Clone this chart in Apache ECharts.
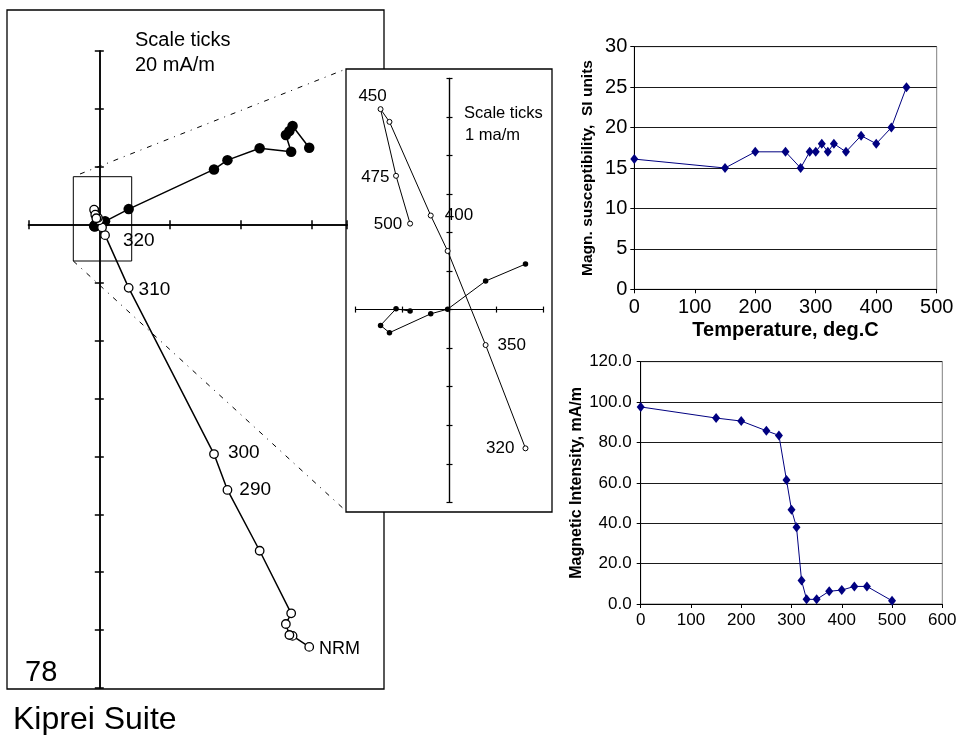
<!DOCTYPE html>
<html><head><meta charset="utf-8">
<script src="https://cdn.jsdelivr.net/npm/echarts@6/dist/echarts.min.js"></script>
<style>html,body{margin:0;padding:0;background:#fff}#c{width:958px;height:735px}</style>
</head><body><div id="c"></div>
<script>
// ---- Zijderveld diagram data (mA/m), shared horizontal component ----
const zLabels = ['NRM','','','','','','290','300','310','320','350','','400','','450','475','500'];
const zX      = [59.3, 54.6, 53.7, 52.7, 54.2, 45.3, 36.2, 32.4, 8.3, 1.62, 0.77, -0.04, -0.40, -1.28, -1.47, -1.14, -0.84];
const zHoriz  = [26.6, 34.1, 32.4, 31.0, 25.2, 26.4, 22.3, 19.1, 5.4, 1.18, 0.74, 0.01, -0.11, -0.60, -0.41, 0.02, -0.04];
const zVert   = [-145.8, -142.0, -141.7, -137.9, -134.2, -112.6, -91.6, -79.2, -21.8, -3.60, -0.92, 1.52, 2.44, 4.87, 5.20, 3.47, 2.23];
const insetFrom = '320';

// ---- Susceptibility vs temperature ----
const tempK   = [0, 150, 200, 250, 275, 290, 300, 310, 320, 330, 350, 375, 400, 425, 450];
const suscept = [16.1, 15, 17, 17, 15, 17, 17, 18, 17, 18, 17, 19, 18, 20, 25];

// ---- Magnetic intensity vs temperature ----
const tempI     = [0, 150, 200, 250, 275, 290, 300, 310, 320, 330, 350, 375, 400, 425, 450, 500];
const intensity = [97.6, 92.1, 90.6, 85.8, 83.5, 61.4, 46.7, 38.0, 11.6, 2.3, 2.3, 6.3, 6.9, 8.7, 8.7, 1.6];

const FONT = 'Liberation Sans';
const chart = echarts.init(document.getElementById('c'), null, {renderer: 'canvas'});

const mainLabelCfg = {
  'NRM': {position: 'right', distance: 5, offset: [0, 2], fontSize: 18},
  '290': {position: 'right', distance: 7, offset: [0, 0]},
  '300': {position: 'right', distance: 9, offset: [0, -1.5]},
  '310': {position: 'right', distance: 5, offset: [0, 2]},
  '320': {position: 'right', distance: 13, offset: [0, 6]}
};
const insetLabelCfg = {
  '450': {position: 'top', distance: 1, offset: [-8, 0]},
  '475': {position: 'left', distance: 3.5, offset: [0, 1]},
  '500': {position: 'left', distance: 5, offset: [0, 1]},
  '400': {position: 'right', distance: 11, offset: [0, 0]},
  '350': {position: 'right', distance: 9, offset: [0, 0]},
  '320': {position: 'left', distance: 8, offset: [0, 0]}
};

function zData(ys, start, cfg, withLabels, fs) {
  const out = [];
  for (let i = start; i < zX.length; i++) {
    const item = {value: [zX[i], ys[i]]};
    const name = zLabels[i];
    if (withLabels && name && cfg[name]) {
      const c = cfg[name];
      item.label = {show: true, formatter: name, position: c.position, distance: c.distance,
        offset: c.offset, fontSize: c.fontSize || fs, fontFamily: FONT, color: '#000'};
    }
    out.push(item);
  }
  return out;
}
const insetStart = zLabels.indexOf(insetFrom);

function crossAxis(grid, pos, min, max, interval, tickLen, lw, zeroIdx) {
  return {
    type: 'value', gridIndex: grid, position: pos, min: min, max: max, interval: interval,
    axisLine: {show: true, onZero: true, onZeroAxisIndex: zeroIdx, lineStyle: {color: '#000', width: lw}},
    axisTick: {show: true, inside: false, length: tickLen, lineStyle: {color: '#000', width: lw}},
    axisLabel: {show: false}, splitLine: {show: false}
  };
}

const option = {
  animation: false,
  backgroundColor: '#fff',
  textStyle: {fontFamily: FONT},
  grid: [
    {left: 28.5, top: 51, width: 318.6, height: 637, outerBoundsMode: 'none'},
    {left: 355.7, top: 78.3, width: 187.6, height: 424, outerBoundsMode: 'none'},
    {left: 634.3, top: 46.7, width: 302.4, height: 242.6, show: true, borderColor: '#808080', borderWidth: 1, outerBoundsMode: 'none'},
    {left: 640.7, top: 361.7, width: 301.6, height: 242.3, show: true, borderColor: '#808080', borderWidth: 1, outerBoundsMode: 'none'}
  ],
  xAxis: [
    crossAxis(0, 'bottom', -20, 70, 20, 4.5, 1.5, 0),
    crossAxis(0, 'top', -20, 70, 20, 4.5, 1.5, 0),
    crossAxis(1, 'bottom', -2, 2, 1, 3, 1.2, 2),
    crossAxis(1, 'top', -2, 2, 1, 3, 1.2, 2),
    {type: 'value', gridIndex: 2, min: 0, max: 500, interval: 100,
      axisLine: {show: true, onZero: false, lineStyle: {color: '#000', width: 1}},
      axisTick: {show: true, length: 4, lineStyle: {color: '#000'}},
      axisLabel: {color: '#000', fontSize: 20, fontFamily: FONT, margin: 8},
      splitLine: {show: false},
      name: 'Temperature, deg.C', nameLocation: 'middle', nameGap: 31,
      nameTextStyle: {color: '#000', fontSize: 20, fontWeight: 'bold', fontFamily: FONT}},
    {type: 'value', gridIndex: 3, min: 0, max: 600, interval: 100,
      axisLine: {show: true, onZero: false, lineStyle: {color: '#000', width: 1}},
      axisTick: {show: true, length: 4, lineStyle: {color: '#000'}},
      axisLabel: {color: '#000', fontSize: 17, fontFamily: FONT, margin: 8},
      splitLine: {show: false}}
  ],
  yAxis: [
    crossAxis(0, 'left', -160, 60, 20, 4.5, 1.5, 0),
    crossAxis(0, 'right', -160, 60, 20, 4.5, 1.5, 0),
    crossAxis(1, 'left', -5, 6, 1, 3, 1.2, 2),
    crossAxis(1, 'right', -5, 6, 1, 3, 1.2, 2),
    {type: 'value', gridIndex: 2, min: 0, max: 30, interval: 5,
      axisLine: {show: true, onZero: false, lineStyle: {color: '#000', width: 1}},
      axisTick: {show: true, length: 4, lineStyle: {color: '#000'}},
      axisLabel: {color: '#000', fontSize: 20, fontFamily: FONT, margin: 7},
      splitLine: {show: true, lineStyle: {color: '#1a1a1a', width: 1.2}},
      name: 'Magn. susceptibility,  SI units', nameLocation: 'middle', nameGap: 38.5,
      nameTextStyle: {color: '#000', fontSize: 15.5, fontWeight: 'bold', fontFamily: FONT}},
    {type: 'value', gridIndex: 3, min: 0, max: 120, interval: 20,
      axisLine: {show: true, onZero: false, lineStyle: {color: '#000', width: 1}},
      axisTick: {show: true, length: 4, lineStyle: {color: '#000'}},
      axisLabel: {color: '#000', fontSize: 17, fontFamily: FONT, margin: 9, formatter: v => v.toFixed(1)},
      splitLine: {show: true, lineStyle: {color: '#1a1a1a', width: 1.2}},
      name: 'Magnetic Intensity, mA/m', nameLocation: 'middle', nameGap: 55.7,
      nameTextStyle: {color: '#000', fontSize: 16, fontWeight: 'bold', fontFamily: FONT}}
  ],
  series: [
    {type: 'line', xAxisIndex: 0, yAxisIndex: 0, silent: true, showAllSymbol: true,
      data: zData(zHoriz, 0, mainLabelCfg, false, 19), symbol: 'circle', symbolSize: 10.5,
      itemStyle: {color: '#000'}, lineStyle: {color: '#000', width: 1.5}},
    {type: 'line', xAxisIndex: 0, yAxisIndex: 0, silent: true, showAllSymbol: true,
      data: zData(zVert, 0, mainLabelCfg, true, 19), symbol: 'circle', symbolSize: 8.5,
      itemStyle: {color: '#fff', borderColor: '#000', borderWidth: 1.3}, lineStyle: {color: '#000', width: 1.5}},
    {type: 'line', xAxisIndex: 2, yAxisIndex: 2, silent: true, showAllSymbol: true,
      data: zData(zHoriz, insetStart, insetLabelCfg, false, 17), symbol: 'circle', symbolSize: 5.5,
      itemStyle: {color: '#000'}, lineStyle: {color: '#000', width: 1}},
    {type: 'line', xAxisIndex: 2, yAxisIndex: 2, silent: true, showAllSymbol: true,
      data: zData(zVert, insetStart, insetLabelCfg, true, 17), symbol: 'circle', symbolSize: 5,
      itemStyle: {color: '#fff', borderColor: '#000', borderWidth: 1}, lineStyle: {color: '#000', width: 1}},
    {type: 'line', xAxisIndex: 4, yAxisIndex: 4, silent: true, showAllSymbol: true,
      data: tempK.map((t, i) => [t, suscept[i]]), symbol: 'diamond', symbolSize: [8, 10],
      itemStyle: {color: '#000080'}, lineStyle: {color: '#000080', width: 1}},
    {type: 'line', xAxisIndex: 5, yAxisIndex: 5, silent: true, showAllSymbol: true,
      data: tempI.map((t, i) => [t, intensity[i]]), symbol: 'diamond', symbolSize: [8, 10],
      itemStyle: {color: '#000080'}, lineStyle: {color: '#000080', width: 1}}
  ],
  graphic: [
    {type: 'polyline', silent: true, z: 10, shape: {points: [[384, 69], [384, 10], [7, 10], [7, 689], [384, 689], [384, 512]]},
      style: {stroke: '#000', lineWidth: 1.3, fill: null}},
    {type: 'rect', silent: true, z: 10, shape: {x: 346, y: 69, width: 206, height: 443},
      style: {stroke: '#000', lineWidth: 1.3, fill: null}},
    {type: 'rect', silent: true, z: 10, shape: {x: 73.3, y: 176.7, width: 58.4, height: 84.3},
      style: {stroke: '#000', lineWidth: 1, fill: null}},
    {type: 'line', silent: true, z: 10, shape: {x1: 80, y1: 174, x2: 346, y2: 69},
      style: {stroke: '#000', lineWidth: 1, lineDash: [5, 6, 1, 6]}},
    {type: 'line', silent: true, z: 10, shape: {x1: 73.3, y1: 261, x2: 346, y2: 511},
      style: {stroke: '#000', lineWidth: 1, lineDash: [5, 6, 1, 6]}},
    {type: 'text', silent: true, z: 10, style: {text: 'Scale ticks', x: 135, y: 40, font: '20px "Liberation Sans"', fill: '#000', textAlign: 'left', textVerticalAlign: 'middle'}},
    {type: 'text', silent: true, z: 10, style: {text: '20 mA/m', x: 135, y: 65, font: '20px "Liberation Sans"', fill: '#000', textAlign: 'left', textVerticalAlign: 'middle'}},
    {type: 'text', silent: true, z: 10, style: {text: 'Scale ticks', x: 464, y: 113.5, font: '16.5px "Liberation Sans"', fill: '#000', textAlign: 'left', textVerticalAlign: 'middle'}},
    {type: 'text', silent: true, z: 10, style: {text: '1 ma/m', x: 465, y: 135.5, font: '16.5px "Liberation Sans"', fill: '#000', textAlign: 'left', textVerticalAlign: 'middle'}},
    {type: 'text', silent: true, z: 10, style: {text: '78', x: 25, y: 673, font: '29px "Liberation Sans"', fill: '#000', textAlign: 'left', textVerticalAlign: 'middle'}},
    {type: 'text', silent: true, z: 10, style: {text: 'Kiprei Suite', x: 13, y: 720, font: '32px "Liberation Sans"', fill: '#000', textAlign: 'left', textVerticalAlign: 'middle'}}
  ]
};
chart.setOption(option);
</script></body></html>
